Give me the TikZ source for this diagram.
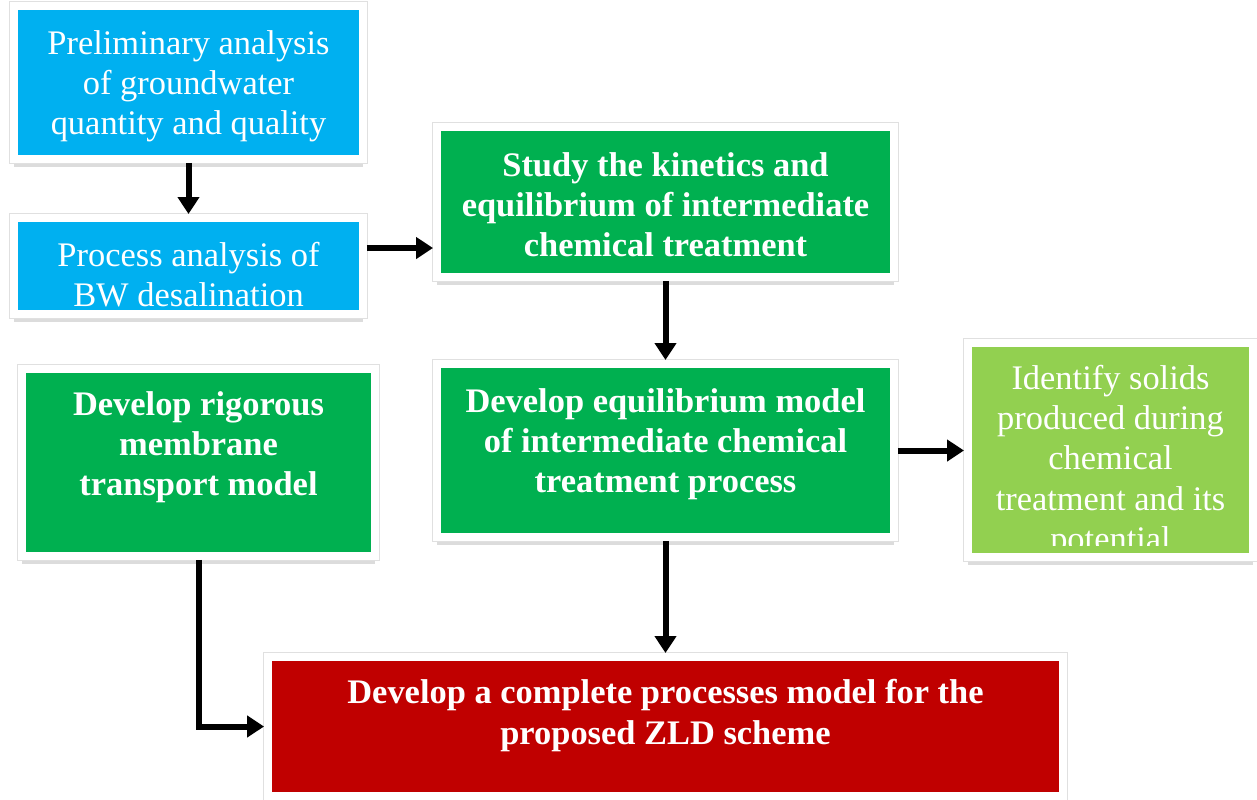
\documentclass[tikz,border=0pt]{standalone}
\usepackage{fontspec}
\setmainfont{Liberation Serif}
\usetikzlibrary{positioning}
\usetikzlibrary{shadows}
\usetikzlibrary{arrows.meta}

\definecolor{gwblue}{HTML}{00B0F0}
\definecolor{stepgreen}{HTML}{00B050}
\definecolor{solidgreen}{HTML}{92D050}
\definecolor{zldred}{HTML}{C00000}

\begin{document}
\begin{tikzpicture}[x=0.02cm, y=-0.02cm,
		stage/.style={rectangle, draw=white, line width=0.16cm, inner sep=0pt,
			drop shadow={shadow xshift=0pt, shadow yshift=-4.5pt, opacity=0.28},
			preaction={draw=black!12, line width=0.2cm}},
		boxtext/.style={text=white, align=center, inner sep=0pt,
			font=\fontsize{19.6}{22.8}\selectfont},
		boldtext/.style={boxtext, font=\fontsize{19.6}{22.8}\selectfont\bfseries},
		flow/.style={line width=0.12cm, -{Triangle[length=0.34cm, width=0.42cm]}}]
				\useasboundingbox (0,0) rectangle (1257,799);
				% boxes
				\node[stage, fill=gwblue, minimum width=6.98cm, minimum height=3.06cm] (prelim) at (188.5,82.5) {};
				\node[stage, fill=gwblue, minimum width=6.98cm, minimum height=1.92cm] (bwproc) at (188.5,266) {};
				\node[stage, fill=stepgreen, minimum width=9.14cm, minimum height=3.0cm] (kinetics) at (665.5,202) {};
				\node[stage, fill=stepgreen, minimum width=9.14cm, minimum height=3.46cm] (eqmodel) at (665.5,450.5) {};
				\node[stage, fill=solidgreen, minimum width=5.7cm, minimum height=4.28cm] (solids) at (1110.5,450) {};
				\node[stage, fill=stepgreen, minimum width=7.06cm, minimum height=3.74cm] (membrane) at (198.5,462.5) {};
				\node[stage, fill=zldred, minimum width=15.9cm, minimum height=2.78cm] (zld) at (665.5,726.5) {};
				% texts
				\node[boxtext] (prelim-t) at ([yshift=-0.08cm]prelim.center) {Preliminary analysis\\of groundwater\\quantity and quality};
				\begin{scope}
					\clip (bwproc.north west) rectangle ([yshift=0.24cm]bwproc.south east);
					\node[boxtext] (bwproc-t) at ([yshift=-0.18cm]bwproc.center) {Process analysis of\\BW desalination};
				\end{scope}
				\node[boldtext] (kinetics-t) at ([yshift=-0.06cm]kinetics.center) {Study the kinetics and\\equilibrium of intermediate\\chemical treatment};
				\node[boldtext] (eqmodel-t) at ([yshift=0.13cm]eqmodel.center) {Develop equilibrium model\\of intermediate chemical\\treatment process};
				\begin{scope}
					\clip (solids.north west) rectangle ([yshift=0.3cm]solids.south east);
					\node[boxtext] (solids-t) at ([yshift=-0.23cm]solids.center) {Identify solids\\produced during\\chemical\\treatment and its\\potential};
				\end{scope}
				\node[boldtext] (membrane-t) at ([yshift=0.31cm]membrane.center) {Develop rigorous\\membrane\\transport model};
				\node[boldtext] (zld-t) at ([yshift=0.22cm]zld.center) {Develop a complete processes model for the\\proposed ZLD scheme};
				% arrows
				\draw[flow] (prelim.south) -- (bwproc.north);
				\draw[flow] ([yshift=0.36cm]bwproc.east) -- ([yshift=0.36cm]bwproc.east -| kinetics.west);
				\draw[flow] (kinetics.south) -- (eqmodel.north);
				\draw[flow] (eqmodel.east) -- (eqmodel.east -| solids.west);
				\draw[flow] (eqmodel.south) -- (zld.north);
				\draw[flow] (membrane.south) |- (zld.west);
		    \end{tikzpicture}
\end{document}
